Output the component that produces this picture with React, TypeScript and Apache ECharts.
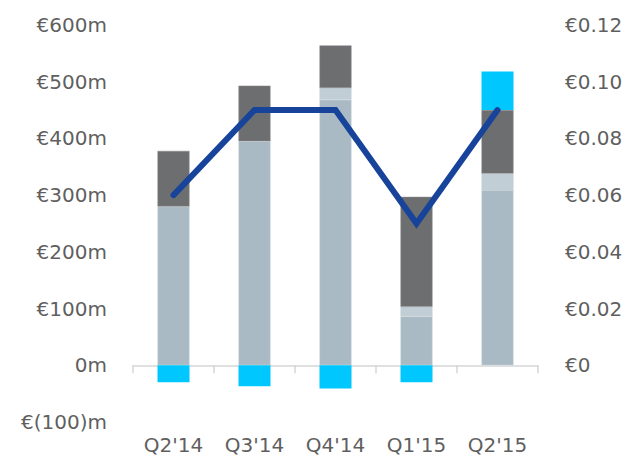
import React, { useEffect, useRef } from "react";
import * as echarts from "echarts";

const categories = ["Q2'14", "Q3'14", "Q4'14", "Q1'15", "Q2'15"];
const baseValues = [280, 395, 468, 86, 309];
const midValues = [null, null, 21, 17, 29];
const darkValues = [98, 98, 75, 194, 112];
const cyanValues = [-30, -37, -41, -30, 68];
const lineValues = [0.06, 0.09, 0.09, 0.05, 0.09];

const FONT = "DejaVu Sans";
const TXT = "#5f5f5f";

export default function App() {
  const ref = useRef<HTMLDivElement>(null);
  useEffect(() => {
    const chart = echarts.init(ref.current!, null, { renderer: "svg" });
    const barCommon = {
      type: "bar",
      stack: "a",
      barWidth: 32,
      xAxisIndex: 0,
      yAxisIndex: 0,
    };
    chart.setOption({
      animation: false,
      grid: { left: 133, right: 88, top: 25, bottom: 34 },
      xAxis: [
        {
          type: "category",
          data: categories,
          axisLine: { onZero: true, lineStyle: { color: "#d6d6d6", width: 1.5 } },
          axisTick: { show: true, length: 8, lineStyle: { color: "#d6d6d6", width: 1.5 } },
          axisLabel: { show: false },
        },
        {
          type: "category",
          data: categories,
          position: "bottom",
          axisLine: { show: false, onZero: false },
          axisTick: { show: false },
          axisLabel: { color: TXT, fontFamily: FONT, fontSize: 20, margin: 13 },
        },
      ],
      yAxis: [
        {
          type: "value",
          min: -100,
          max: 600,
          interval: 100,
          splitLine: { show: false },
          axisLine: { show: false },
          axisTick: { show: false },
          axisLabel: {
            color: TXT,
            fontFamily: FONT,
            fontSize: 20,
            margin: 26,
            formatter: (v: number) => (v > 0 ? `€${v}m` : v === 0 ? "0m" : `€(${-v})m`),
          },
        },
        {
          type: "value",
          min: -0.02,
          max: 0.12,
          interval: 0.02,
          position: "right",
          splitLine: { show: false },
          axisLine: { show: false },
          axisTick: { show: false },
          axisLabel: {
            color: TXT,
            fontFamily: FONT,
            fontSize: 20,
            margin: 27,
            formatter: (v: number) => {
              if (v < -0.001) return "";
              if (Math.abs(v) < 0.001) return "€0";
              return `€${v.toFixed(2)}`;
            },
          },
        },
      ],
      series: [
        { ...barCommon, name: "base", data: baseValues, itemStyle: { color: "#a9bac4", borderColor: "#c9d4da", borderWidth: 0.5 } },
        { ...barCommon, name: "mid", data: midValues, itemStyle: { color: "#c2ced6" } },
        { ...barCommon, name: "dark", data: darkValues, itemStyle: { color: "#6d6e70", borderColor: "#8a8b8d", borderWidth: 0.5 } },
        { ...barCommon, name: "cyan", data: cyanValues, itemStyle: { color: "#00c8ff" } },
        {
          type: "line",
          name: "line",
          data: lineValues,
          xAxisIndex: 0,
          yAxisIndex: 1,
          showSymbol: false,
          symbol: "none",
          lineStyle: { color: "#17449a", width: 6, cap: "round", join: "miter" },
          z: 5,
        },
      ],
    });
    return () => chart.dispose();
  }, []);
  return (
    <div style={{ position: "absolute", left: 0, top: 0 }}>
      <div ref={ref} style={{ width: 626, height: 456 }} />
    </div>
  );
}
